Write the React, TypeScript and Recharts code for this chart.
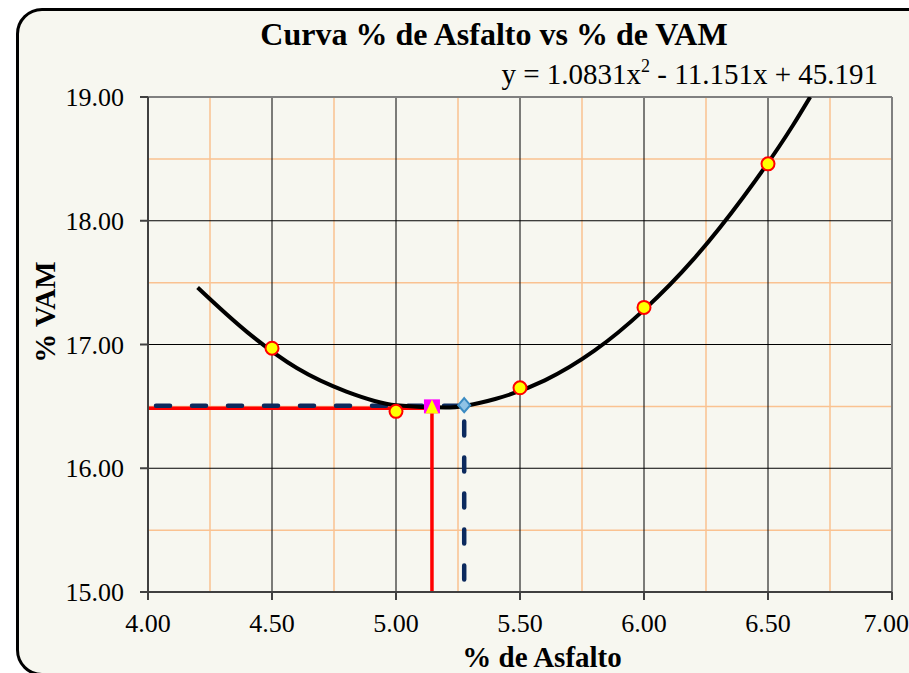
import {
  ComposedChart,
  Line,
  Scatter,
  XAxis,
  YAxis,
  ReferenceLine,
} from 'recharts';

// valores medidos (% asfalto vs % VAM)
const ensayos = [
  { x: 4.5, y: 16.97 },
  { x: 5.0, y: 16.46 },
  { x: 5.5, y: 16.65 },
  { x: 6.0, y: 17.3 },
  { x: 6.5, y: 18.46 },
];

// linea de tendencia
const tendencia = [
  { x: 4.2, y: 17.46 },
  { x: 4.4, y: 17.1 },
  { x: 4.6, y: 16.81 },
  { x: 4.8, y: 16.62 },
  { x: 5.0, y: 16.51 },
  { x: 5.2, y: 16.49 },
  { x: 5.4, y: 16.56 },
  { x: 5.6, y: 16.71 },
  { x: 5.8, y: 16.95 },
  { x: 6.0, y: 17.28 },
  { x: 6.2, y: 17.69 },
  { x: 6.4, y: 18.19 },
  { x: 6.6, y: 18.77 },
  { x: 6.67, y: 19.0 },
];

const lineaRoja = [
  { x: 4.0, y: 16.485 },
  { x: 5.145, y: 16.485 },
  { x: 5.145, y: 15.0 },
];

const lineaAzul = [
  { x: 4.0, y: 16.505 },
  { x: 5.275, y: 16.505 },
  { x: 5.275, y: 15.0 },
];

const puntoCuadrado = [{ x: 5.145, y: 16.5 }];
const puntoTriangulo = [{ x: 5.145, y: 16.49 }];
const puntoRombo = [{ x: 5.275, y: 16.51 }];

const xTicks = [4, 4.5, 5, 5.5, 6, 6.5, 7];
const xMajorGrid = [4.5, 5, 5.5, 6, 6.5];
const xMinorGrid = [4.25, 4.75, 5.25, 5.75, 6.25, 6.75];
const yTicks = [15, 16, 17, 18, 19];
const yMajorGrid = [16, 17, 18];
const yMinorGrid = [15.5, 16.5, 17.5, 18.5];

const titulo = 'Curva % de Asfalto vs % de VAM';
const serif = '"Liberation Serif", "Times New Roman", serif';
const orange = '#fac291';

const Square = ({ cx, cy }: any) => (
  <rect x={cx - 8} y={cy - 7} width={16} height={14} fill="#ff00ff" />
);

const Triangle = ({ cx, cy }: any) => (
  <polygon
    points={`${cx},${cy - 8} ${cx + 6.5},${cy + 6} ${cx - 6.5},${cy + 6}`}
    fill="#ffff00"
  />
);

const Diamond = ({ cx, cy }: any) => (
  <polygon
    points={`${cx},${cy - 7} ${cx + 6},${cy} ${cx},${cy + 7} ${cx - 6},${cy}`}
    fill="#8fc3e6"
    stroke="#3b8bc2"
    strokeWidth={2}
  />
);

export default function App() {
  return (
    <div
      style={{
        position: 'absolute',
        left: 0,
        top: 0,
        width: 909,
        height: 673,
        overflow: 'hidden',
        background: '#ffffff',
        fontFamily: serif,
      }}
    >
      <div
        style={{
          position: 'absolute',
          left: 16,
          top: 8,
          width: 960,
          height: 662,
          border: '3.5px solid #000',
          borderRadius: 26,
          background: '#f7f7f0',
        }}
      />
      <div style={{ position: 'absolute', left: 0, top: 0 }}>
        <ComposedChart
          width={909}
          height={673}
          margin={{ top: 97, right: 17, left: 0, bottom: 0 }}
          style={{ overflow: 'visible' }}
        >
          <XAxis
            type="number"
            dataKey="x"
            domain={[4, 7]}
            ticks={xTicks}
            allowDataOverflow
            tickFormatter={(v: number) => v.toFixed(2)}
            height={81}
            tickSize={8}
            tickMargin={14}
            stroke="#404040"
            strokeWidth={2}
            tick={{ fill: '#000', fontSize: 26, fontFamily: serif }}
            label={{
              content: () => (
                <text
                  x={542}
                  y={667}
                  textAnchor="middle"
                  fontSize={29}
                  fontWeight="bold"
                  fontFamily={serif}
                  fill="#000"
                >
                  % de Asfalto
                </text>
              ),
            }}
          />
          <YAxis
            type="number"
            dataKey="y"
            domain={[15, 19]}
            ticks={yTicks}
            allowDataOverflow
            tickFormatter={(v: number) => v.toFixed(2)}
            width={148}
            tickSize={8}
            tickMargin={16}
            stroke="#404040"
            strokeWidth={2}
            tick={{ fill: '#000', fontSize: 26, fontFamily: serif }}
            label={{
              content: () => (
                <text
                  x={55}
                  y={312}
                  textAnchor="middle"
                  fontSize={29}
                  fontWeight="bold"
                  fontFamily={serif}
                  fill="#000"
                  transform="rotate(-90 55 312)"
                >
                  % VAM
                </text>
              ),
            }}
          />

          {xMinorGrid.map((v) => (
            <ReferenceLine key={'xm' + v} x={v} stroke={orange} strokeWidth={1.5} />
          ))}
          {yMinorGrid.map((v) => (
            <ReferenceLine key={'ym' + v} y={v} stroke={orange} strokeWidth={1.5} />
          ))}
          {xMajorGrid.map((v) => (
            <ReferenceLine key={'xM' + v} x={v} stroke="#000" strokeWidth={1} />
          ))}
          {yMajorGrid.map((v) => (
            <ReferenceLine key={'yM' + v} y={v} stroke="#000" strokeWidth={1} />
          ))}
          <ReferenceLine y={19} stroke="#808080" strokeWidth={2} />
          <ReferenceLine x={7} stroke="#808080" strokeWidth={2} />

          <Line
            data={lineaRoja}
            dataKey="y"
            stroke="#ff0000"
            strokeWidth={3.5}
            dot={false}
            isAnimationActive={false}
          />
          <Line
            data={lineaAzul}
            dataKey="y"
            stroke="#0c2a5e"
            strokeWidth={4.5}
            strokeDasharray="14 22"
            strokeDashoffset={-8}
            strokeLinecap="round"
            dot={false}
            isAnimationActive={false}
          />
          <Line
            data={tendencia}
            dataKey="y"
            type="monotone"
            stroke="#000"
            strokeWidth={4}
            dot={false}
            isAnimationActive={false}
          />
          <Scatter
            data={ensayos}
            dataKey="y"
            fill="#ffff00"
            stroke="#ff0000"
            shape={(p: any) => (
              <circle cx={p.cx} cy={p.cy} r={6.5} fill="#ffff00" stroke="#ff0000" strokeWidth={2} />
            )}
            isAnimationActive={false}
          />
          <Scatter data={puntoCuadrado} dataKey="y" shape={Square} isAnimationActive={false} />
          <Scatter data={puntoTriangulo} dataKey="y" shape={Triangle} isAnimationActive={false} />
          <Scatter data={puntoRombo} dataKey="y" shape={Diamond} isAnimationActive={false} />
        </ComposedChart>
      </div>
      <svg
        width={909}
        height={100}
        style={{ position: 'absolute', left: 0, top: 0, pointerEvents: 'none' }}
      >
        <text
          x={494}
          y={45}
          textAnchor="middle"
          fontSize={32}
          fontWeight="bold"
          fontFamily={serif}
          fill="#000"
        >
          {titulo}
        </text>
        <text x={878} y={84} textAnchor="end" fontSize={29} fontFamily={serif} fill="#000">
          y = 1.0831x
          <tspan fontSize={18} dy={-12}>2</tspan>
          <tspan dy={12}> - 11.151x + 45.191</tspan>
        </text>
      </svg>
    </div>
  );
}
